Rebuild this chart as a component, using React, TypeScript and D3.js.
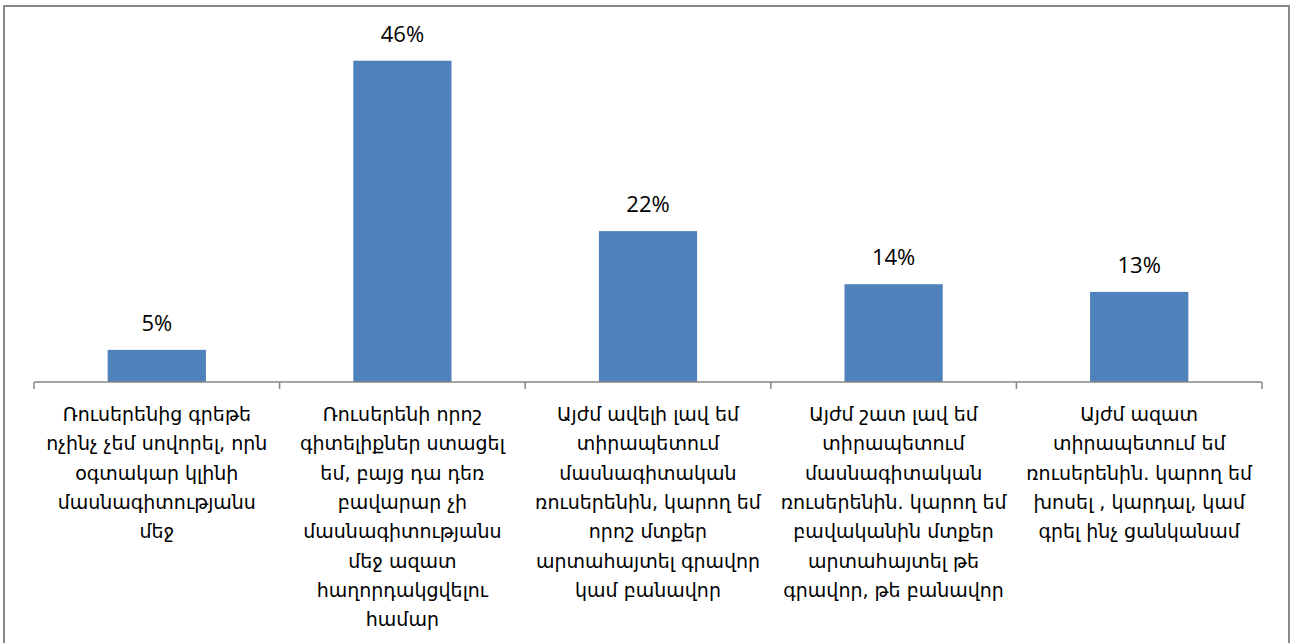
import React, { useEffect, useRef } from 'react'
import * as d3 from 'd3'

// category labels, already broken into lines as in the original
const categories: string[][] = [
  ['Ռուսերենից գրեթե', 'ոչինչ չեմ սովորել, որն', 'օգտակար կլինի', 'մասնագիտությանս', 'մեջ'],
  [
    'Ռուսերենի որոշ',
    'գիտելիքներ ստացել',
    'եմ, բայց դա դեռ',
    'բավարար չի',
    'մասնագիտությանս',
    'մեջ ազատ',
    'հաղորդակցվելու',
    'համար',
  ],
  [
    'Այժմ ավելի լավ եմ',
    'տիրապետում',
    'մասնագիտական',
    'ռուսերենին, կարող եմ',
    'որոշ մտքեր',
    'արտահայտել գրավոր',
    'կամ բանավոր',
  ],
  [
    'Այժմ շատ լավ եմ',
    'տիրապետում',
    'մասնագիտական',
    'ռուսերենին. կարող եմ',
    'բավականին մտքեր',
    'արտահայտել թե',
    'գրավոր, թե բանավոր',
  ],
  ['Այժմ ազատ', 'տիրապետում եմ', 'ռուսերենին. կարող եմ', 'խոսել , կարդալ, կամ', 'գրել ինչ ցանկանամ'],
]
const values: number[] = [0.046, 0.46, 0.216, 0.14, 0.129]

const W = 1298
const H = 643

const App = () => {
  const svgRef = useRef<SVGSVGElement>(null)

  useEffect(() => {
    const svg = d3.select(svgRef.current)
    svg.selectAll('*').remove()

    const left = 34
    const right = 1262
    const baseline = 382
    const fmt = d3.format('.0%')
    const idx = categories.map((_, i) => i)

    const x = d3.scaleBand<number>().domain(idx).range([left, right]).paddingInner(0.6).paddingOuter(0.3)
    const y = d3.scaleLinear().domain([0, 0.5]).range([baseline, baseline - 349.2])

    // chart border
    svg
      .append('rect')
      .attr('x', 4)
      .attr('y', 6)
      .attr('width', 1285)
      .attr('height', 660)
      .attr('fill', 'white')
      .attr('stroke', '#898989')
      .attr('stroke-width', 2)

    // bars
    svg
      .append('g')
      .selectAll('rect')
      .data(values)
      .join('rect')
      .attr('x', (_, i) => x(i)!)
      .attr('y', (d) => y(d))
      .attr('width', x.bandwidth())
      .attr('height', (d) => baseline - y(d))
      .attr('fill', '#4f81bd')

    // value labels
    svg
      .append('g')
      .selectAll('text')
      .data(values)
      .join('text')
      .attr('x', (_, i) => x(i)! + x.bandwidth() / 2)
      .attr('y', (d) => y(d) - 19)
      .attr('text-anchor', 'middle')
      .attr('font-family', 'Open Sans, sans-serif')
      .attr('font-size', 22)
      .attr('fill', '#000')
      .text((d) => fmt(d))

    // x axis line + tick marks between categories
    const axis = svg.append('g')
    axis
      .append('line')
      .attr('x1', left)
      .attr('x2', right)
      .attr('y1', baseline)
      .attr('y2', baseline)
      .attr('stroke', '#868686')
      .attr('stroke-width', 1.5)
    const step = x.step()
    const ticks = [...idx.map((i) => x(i)! - (step * 0.6) / 2), right]
    axis
      .selectAll('line.tick')
      .data(ticks)
      .join('line')
      .attr('class', 'tick')
      .attr('x1', (d) => d)
      .attr('x2', (d) => d)
      .attr('y1', baseline)
      .attr('y2', baseline + 7)
      .attr('stroke', '#868686')
      .attr('stroke-width', 1.5)

    // category labels
    const catGroup = svg.append('g')
    categories.forEach((lines, i) => {
      const t = catGroup
        .append('text')
        .attr('text-anchor', 'middle')
        .attr('font-family', 'DejaVu Sans, sans-serif')
        .attr('font-size', 19)
        .attr('fill', '#000')
      lines.forEach((ln, j) => {
        t.append('tspan')
          .attr('x', x(i)! + x.bandwidth() / 2)
          .attr('y', 421 + j * 29.3)
          .text(ln)
      })
    })
  }, [])

  return (
    <svg
      ref={svgRef}
      width={W}
      height={H}
      style={{ position: 'absolute', left: 0, top: 0, background: 'white' }}
    />
  )
}

export default App
